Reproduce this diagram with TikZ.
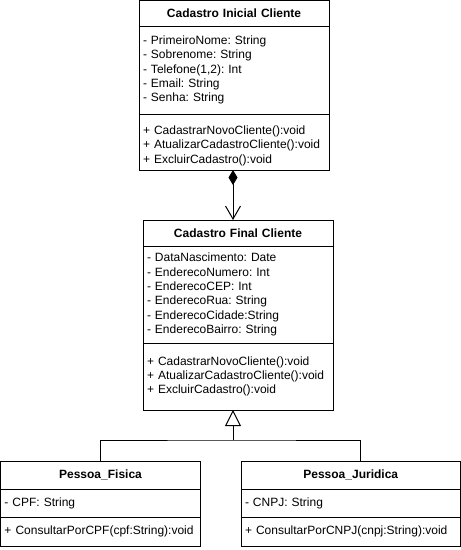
\documentclass[tikz,border=0pt]{standalone}
\usepackage{fontspec}
\setmainfont{Liberation Sans}
\usetikzlibrary{arrows.meta, positioning}
\frenchspacing

\begin{document}
\begin{tikzpicture}[x=1pt, y=-1pt, line width=1pt,
  secao/.style={draw, outer sep=0pt, inner sep=0pt, inner xsep=4pt, text width=#1,
    align=left, font=\fontsize{12}{14.3}\selectfont},
  titulo/.style={secao=#1, align=center, font=\fontsize{12}{14.3}\selectfont\bfseries},
  compoe/.style={{Diamond[length=15pt, width=9pt]}-{Straight Barb[length=13pt, width=15pt]}},
  herda/.style={{Triangle[open, length=16pt, width=16pt]}-}]
\useasboundingbox (0,0) rectangle (461,550);

% classe de cima
\node[titulo=182pt, minimum height=25.5pt, anchor=north west] (inicialh) at (139,0.5) {Cadastro Inicial Cliente};
\node[secao=182pt, minimum height=88pt, below=0pt of inicialh] (inicialatr) {- PrimeiroNome: String\\- Sobrenome: String\\- Telefone(1,2): Int\\- Email: String\\- Senha: String};
\node[secao=182pt, minimum height=56pt, below=0pt of inicialatr] (inicialmet) {\rule{0pt}{16pt}+ CadastrarNovoCliente():void\\+ AtualizarCadastroCliente():void\\+ ExcluirCadastro():void};

% classe do meio
\node[titulo=182pt, minimum height=26pt, anchor=north west] (finalh) at (143,220) {Cadastro Final Cliente};
\node[secao=182pt, minimum height=97pt, below=0pt of finalh] (finalatr) {- DataNascimento: Date\\- EnderecoNumero: Int\\- EnderecoCEP: Int\\- EnderecoRua: String\\- EnderecoCidade:String\\- EnderecoBairro: String};
\node[secao=182pt, minimum height=67pt, below=0pt of finalatr] (finalmet) {+ CadastrarNovoCliente():void\\+ AtualizarCadastroCliente():void\\+ ExcluirCadastro():void};

% subclasses
\node[titulo=192pt, minimum height=28pt, anchor=north west] (fisicah) at (0.5,461) {Pessoa\_Fisica};
\node[secao=192pt, minimum height=28pt, below=0pt of fisicah] (fisicaatr) {- CPF: String};
\node[secao=192pt, minimum height=29pt, below=0pt of fisicaatr] (fisicamet) {+ ConsultarPorCPF(cpf:String):void};

\node[titulo=211.5pt, minimum height=28pt, anchor=north west] (juridicah) at (241,461) {Pessoa\_Juridica};
\node[secao=211.5pt, minimum height=28pt, below=0pt of juridicah] (juridicaatr) {- CNPJ: String};
\node[secao=211.5pt, minimum height=29pt, below=0pt of juridicaatr] (juridicamet) {+ ConsultarPorCNPJ(cnpj:String):void};

\coordinate (eixo) at (233,0);
\coordinate (juncao) at (233,440);
\coordinate (ramodir) at (360,440);

\draw[compoe] (inicialmet.south -| eixo) -- (finalh.north -| eixo); %composicao
\draw[herda] (finalmet.south -| eixo) -- (juncao); %heranca
\draw (fisicah.north) |- (juncao) -- (ramodir) -- (ramodir |- juridicah.north);

\end{tikzpicture}
\end{document}
